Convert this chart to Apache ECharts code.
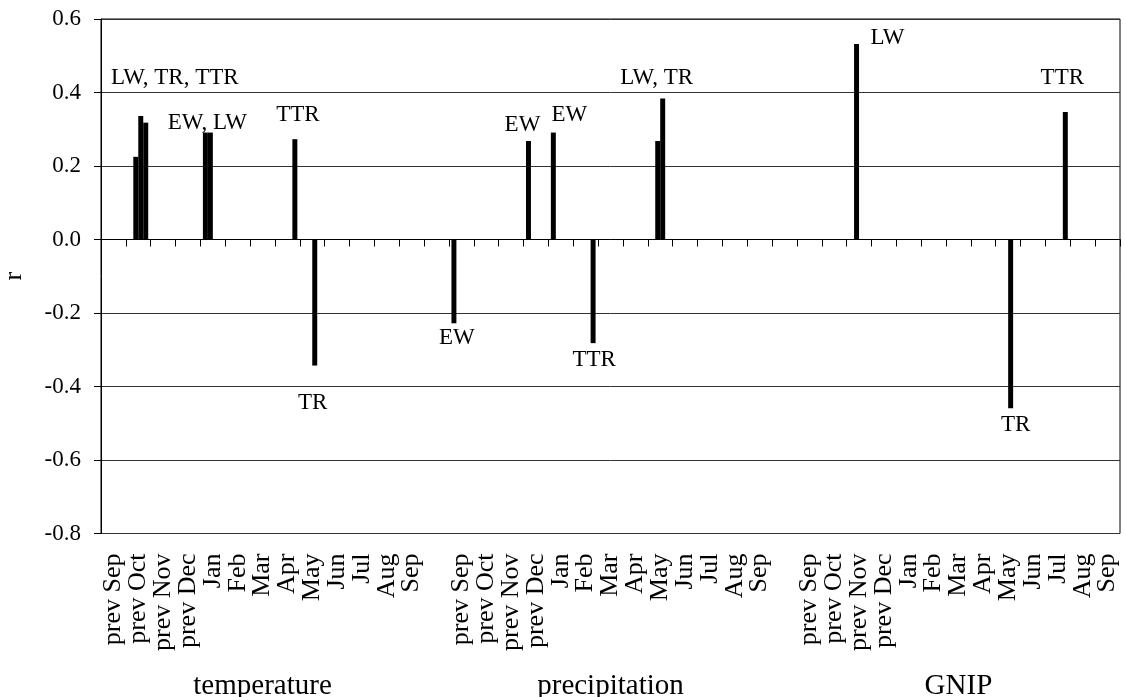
<!DOCTYPE html>
<html>
<head>
<meta charset="utf-8">
<script src="https://cdn.jsdelivr.net/npm/echarts@6/dist/echarts.min.js"></script>
<style>
  html, body { margin: 0; padding: 0; background: #fff; }
  #chart { width: 1125px; height: 697px; }
</style>
</head>
<body>
<div id="chart"></div>
<script>
const months = ['prev Sep', 'prev Oct', 'prev Nov', 'prev Dec', 'Jan', 'Feb', 'Mar', 'Apr', 'May', 'Jun', 'Jul', 'Aug', 'Sep']
const groups = ['temperature', 'precipitation', 'GNIP']
const seriesNames = ['EW', 'LW', 'TR', 'TTR']

// one value per category: temperature (13), spacer, precipitation (13), spacer, GNIP (13)
const ew = [
  null, null, null, null, 0.291, null, null, null, null, null, null, null, null,
  null,
  -0.228, null, null, 0.268, 0.291, null, null, null, null, null, null, null, null,
  null,
  null, null, null, null, null, null, null, null, null, null, null, null, null
]
const lw = [
  null, 0.225, null, null, 0.291, null, null, null, null, null, null, null, null,
  null,
  null, null, null, null, null, null, null, null, 0.268, null, null, null, null,
  null,
  null, null, 0.532, null, null, null, null, null, null, null, null, null, null
]
const tr = [
  null, 0.336, null, null, null, null, null, null, -0.343, null, null, null, null,
  null,
  null, null, null, null, null, null, null, null, 0.384, null, null, null, null,
  null,
  null, null, null, null, null, null, null, null, -0.459, null, null, null, null
]
const ttr = [
  null, 0.318, null, null, null, null, null, 0.273, null, null, null, null, null,
  null,
  null, null, null, null, null, -0.282, null, null, null, null, null, null, null,
  null,
  null, null, null, null, null, null, null, null, null, null, 0.347, null, null
]

// text annotations: [series, category index, text]
const notes = [
  ['TR', 1, 'LW, TR, TTR'],
  ['LW', 4, 'EW, LW'],
  ['TTR', 7, 'TTR'],
  ['TR', 8, 'TR'],
  ['EW', 14, 'EW'],
  ['EW', 17, 'EW'],
  ['EW', 18, 'EW'],
  ['TTR', 19, 'TTR'],
  ['TR', 22, 'LW, TR'],
  ['LW', 30, 'LW'],
  ['TR', 36, 'TR'],
  ['TTR', 38, 'TTR']
]

const yTicks = { min: -0.8, max: 0.6, step: 0.2 }

// where each annotation sits relative to its bar end
const noteOffsets = [
  [34, -22], [-3, 7], [3, -8], [-2, 21], [3, -2], [-6, 0],
  [16, -1], [1, 0], [-6, -4], [31, 10], [5, 0], [-3, -18]
]

const serif = 'Liberation Serif, Times New Roman, serif'

// build category list with spacer gaps
const cats = []
const groupCats = []
groups.forEach((g, gi) => {
  if (gi > 0) {
    cats.push('')
    groupCats.push('')
  }
  months.forEach((m, mi) => {
    cats.push(m)
    groupCats.push(mi === 6 ? g : '')
  })
})

const values = { EW: ew, LW: lw, TR: tr, TTR: ttr }

const buildData = (name) => values[name].map((v, i) => {
  const ni = notes.findIndex(n => n[0] === name && n[1] === i)
  if (ni < 0 || v === null) return v
  return {
    value: v,
    label: {
      show: true,
      position: v >= 0 ? 'top' : 'bottom',
      distance: 5,
      offset: noteOffsets[ni],
      formatter: notes[ni][2],
      color: '#000',
      fontFamily: serif,
      fontSize: 23
    }
  }
})

const chart = echarts.init(document.getElementById('chart'))

const option = {
  animation: false,
  backgroundColor: '#fff',
  grid: {
    left: 101,
    right: 5,
    top: 19,
    bottom: 163.5,
    outerBoundsMode: 'none',
    containLabel: false,
    show: true,
    borderColor: '#000',
    borderWidth: 1,
    backgroundColor: 'transparent'
  },
  xAxis: [
    {
      type: 'category',
      data: cats,
      axisLine: { onZero: true, lineStyle: { color: '#000', width: 1 } },
      axisTick: { show: true, interval: 0, length: 7, lineStyle: { color: '#000' } },
      axisLabel: { show: false },
      splitLine: { show: false }
    },
    {
      type: 'category',
      data: cats,
      position: 'bottom',
      axisLine: { show: false, onZero: false },
      axisTick: { show: false },
      axisLabel: {
        interval: 0,
        rotate: 90,
        margin: 20,
        color: '#000',
        fontFamily: serif,
        fontSize: 26
      }
    },
    {
      type: 'category',
      data: groupCats,
      position: 'bottom',
      offset: 130,
      axisLine: { show: false, onZero: false },
      axisTick: { show: false },
      axisLabel: {
        interval: 0,
        margin: 8,
        color: '#000',
        fontFamily: serif,
        fontSize: 29
      }
    }
  ],
  yAxis: {
    type: 'value',
    min: yTicks.min,
    max: yTicks.max,
    interval: yTicks.step,
    name: 'r',
    nameLocation: 'middle',
    nameGap: 74,
    nameTextStyle: { color: '#000', fontFamily: serif, fontSize: 26 },
    axisLine: { show: true, lineStyle: { color: '#000' } },
    axisTick: { show: true, length: 7, lineStyle: { color: '#000' } },
    axisLabel: {
      margin: 20,
      color: '#000',
      fontFamily: serif,
      fontSize: 23,
      formatter: v => (Math.abs(v) < 1e-9 ? 0 : v).toFixed(1)
    },
    splitLine: { show: true, lineStyle: { color: '#333', width: 1 } }
  },
  series: seriesNames.map(name => ({
    name,
    type: 'bar',
    xAxisIndex: 0,
    data: buildData(name),
    barGap: '0%',
    barCategoryGap: '20%',
    itemStyle: { color: '#000' }
  }))
}

chart.setOption(option)
</script>
</body>
</html>
